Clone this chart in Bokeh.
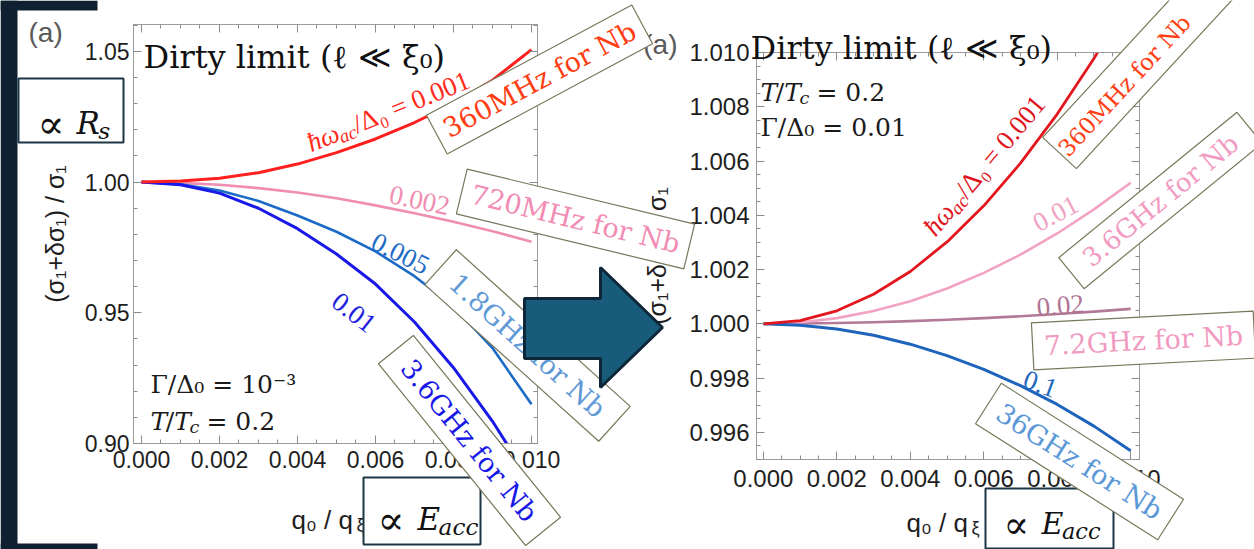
import math
from bokeh.plotting import figure
from bokeh.models import Range1d, LinearAxis, FixedTicker, PrintfTickFormatter, CustomJSTickFormatter
from bokeh.layouts import row
from bokeh.embed import file_html
from bokeh.resources import INLINE
from bokeh.core.properties import value

# ---------------- data ----------------
q = [0.000, 0.001, 0.002, 0.003, 0.004, 0.005, 0.006, 0.007, 0.008, 0.009, 0.010]

# left panel: Gamma/Delta0 = 1e-3, T/Tc = 0.2
left_w001 = [1.0000, 1.0004, 1.0015, 1.0036, 1.0069, 1.0113, 1.0165, 1.0228, 1.0300, 1.0390, 1.0507]
left_w002 = [1.0000, 0.9997, 0.9990, 0.9977, 0.9960, 0.9938, 0.9911, 0.9881, 0.9848, 0.9812, 0.9772]
left_w005 = [1.0000, 0.9992, 0.9968, 0.9928, 0.9872, 0.9810, 0.9735, 0.9640, 0.9525, 0.9365, 0.9150]
left_w010 = [1.0000, 0.9990, 0.9958, 0.9900, 0.9822, 0.9725, 0.9610, 0.9465, 0.9290, 0.9085, 0.8850]

# right panel: T/Tc = 0.2, Gamma/Delta0 = 0.01
right_w001 = [1.00000, 1.00012, 1.00048, 1.00109, 1.00193, 1.00302, 1.00435, 1.00592, 1.00773, 1.00978, 1.01208]
right_w010 = [1.00000, 1.00005, 1.00021, 1.00047, 1.00083, 1.00130, 1.00188, 1.00255, 1.00333, 1.00422, 1.00520]
right_w020 = [1.00000, 1.00001, 1.00003, 1.00006, 1.00010, 1.00015, 1.00021, 1.00028, 1.00036, 1.00045, 1.00055]
right_w100 = [1.00000, 0.99995, 0.99981, 0.99958, 0.99925, 0.99883, 0.99832, 0.99772, 0.99703, 0.99623, 0.99532]

x_ticks = [0.000, 0.002, 0.004, 0.006, 0.008, 0.010]
x_minor = [round(0.0005 * k, 4) for k in range(0, 21)]
left_y_ticks = [0.90, 0.95, 1.00, 1.05]
left_y_minor = [round(0.90 + 0.01 * k, 2) for k in range(0, 17)]
right_y_ticks = [0.996, 0.998, 1.000, 1.002, 1.004, 1.006, 1.008, 1.010]
right_y_minor = [round(0.995 + 0.0005 * k, 4) for k in range(0, 31)]

ylab = "(σ₁+δσ₁) / σ₁"

# ---------------- plot panels ----------------
def style_axis(ax, major, minor, fmt, labels, fs, standoff):
    ax.ticker = FixedTicker(ticks=major, minor_ticks=minor)
    if labels:
        ax.formatter = PrintfTickFormatter(format=fmt)
        ax.major_label_text_font = "Liberation Sans"
        ax.major_label_text_font_size = fs
        ax.major_label_text_color = "#1e1e1e"
        ax.major_label_standoff = standoff
    else:
        ax.formatter = CustomJSTickFormatter(code="return ''")
        ax.major_label_text_font_size = "1px"
        ax.major_label_standoff = 0
    ax.major_tick_in = 8
    ax.major_tick_out = 0
    ax.minor_tick_in = 4
    ax.minor_tick_out = 0
    ax.axis_line_color = "#9c9c9c"
    ax.major_tick_line_color = "#8c8c8c"
    ax.minor_tick_line_color = "#8c8c8c"


def make_panel(width, xr, yr, bl, br, bt, bb, yticks, yminor, yfmt, fs, xstand, ystand, ylab_stand):
    p = figure(width=width, height=549, x_range=Range1d(*xr), y_range=Range1d(*yr),
               output_backend="svg", toolbar_location=None, title=None,
               min_border_left=bl, min_border_right=br, min_border_top=bt, min_border_bottom=bb)
    p.frame_align = False
    p.background_fill_color = "white"
    p.border_fill_color = "white"
    p.outline_line_color = "#9c9c9c"
    p.xgrid.visible = False
    p.ygrid.visible = False
    p.add_layout(LinearAxis(), "above")
    p.add_layout(LinearAxis(), "right")
    style_axis(p.below[0], x_ticks, x_minor, "%.3f", True, fs, xstand)
    style_axis(p.left[0], yticks, yminor, yfmt, True, fs, ystand)
    style_axis(p.above[0], x_ticks, x_minor, "", False, fs, 0)
    style_axis(p.right[0], yticks, yminor, "", False, fs, 0)
    p.left[0].axis_label = ylab
    p.left[0].axis_label_text_font = "Liberation Sans"
    p.left[0].axis_label_text_font_size = "25px"
    p.left[0].axis_label_text_font_style = "normal"
    p.left[0].axis_label_text_color = "#1e1e1e"
    p.left[0].axis_label_standoff = ylab_stand
    return p

f1 = make_panel(640, (-0.000205, 0.010154), (0.90, 1.0603), 133, 103, 24, 106,
                left_y_ticks, left_y_minor, "%.2f", "23px", 7, 4, 13)
f1.line(q, left_w002, line_color="#f08db2", line_width=2.6, line_join="round")
f1.line(q, left_w005, line_color="#1b6bc6", line_width=2.6, line_join="round")
f1.line(q, left_w010, line_color="#1818e8", line_width=3, line_join="round")
f1.line(q, left_w001, line_color="#ff1f1f", line_width=3, line_join="round")

f2 = make_panel(614, (-0.000187, 0.01024), (0.995, 1.010), 108, 115, 52, 90,
                right_y_ticks, right_y_minor, "%.3f", "24px", 10, 7, 15)
f2.line(q, right_w020, line_color="#b27a98", line_width=2.6, line_join="round")
f2.line(q, right_w010, line_color="#f2a3c4", line_width=2.6, line_join="round")
f2.line(q, right_w100, line_color="#1e64bd", line_width=3, line_join="round")
f2.line(q, right_w001, line_color="#e3161e", line_width=2.8, line_join="round")

# ---------------- slide overlay ----------------
ov = figure(width=1254, height=549, x_range=Range1d(0, 1254), y_range=Range1d(549, 0),
            output_backend="svg", toolbar_location=None, title=None,
            x_axis_location=None, y_axis_location=None, min_border=0)
ov.frame_align = False
ov.background_fill_color = None
ov.border_fill_color = None
ov.outline_line_color = None
ov.xgrid.grid_line_color = None
ov.ygrid.grid_line_color = None
ov.margin = (0, 0, 0, -1254)

LS = {c: 0.5 for c in "0123456789"}
LS.update({'.': 0.25, ' ': 0.25, '=': 0.564, '/': 0.278, '(': 0.333, ')': 0.333, '−': 0.564, '+': 0.564,
           'T': 0.56, 'Γ': 0.6, 'Δ': 0.62, 'E': 0.611, 'R': 0.611, 'a': 0.5, 'c': 0.444, 's': 0.389,
           'q': 0.5, 'ħ': 0.5, 'ω': 0.67, 'σ': 0.55, 'δ': 0.5, 'ξ': 0.45, '₀': 0.5})
DV = {c: 0.636 for c in "0123456789"}
DV.update({'.': 0.318, ' ': 0.318, '=': 0.838, '/': 0.337, '(': 0.39, ')': 0.39, '−': 0.838,
           'T': 0.61, 'Γ': 0.637, 'Δ': 0.77, 'E': 0.68, 'R': 0.7, 'a': 0.6, 'c': 0.52, 's': 0.5,
           '∝': 0.84, '₀': 0.4, '⁻': 0.4, '³': 0.4})
SA = {c: 0.556 for c in "0123456789"}
SA.update({' ': 0.278, '/': 0.278, 'q': 0.556, 'ξ': 0.5})
TABLES = {"Liberation Serif": LS, "DejaVu Serif": DV, "Liberation Sans": SA}


def twidth(s, fam):
    t = TABLES[fam]
    return sum(t.get(c, 0.55) for c in s)


def rich(segs, x0, y0, size, color, fam, angle=0.0, anchor="left"):
    a = math.radians(angle)
    ux, uy = math.cos(a), -math.sin(a)
    vx, vy = math.sin(a), math.cos(a)
    total = sum(twidth(t, fam) * size * sc for t, sc, sh, st in segs)
    if anchor == "center":
        x0 = x0 - total / 2 * ux + 0.33 * size * vx
        y0 = y0 - total / 2 * uy + 0.33 * size * vy
    adv = 0.0
    for t, sc, sh, st in segs:
        s = size * sc
        lead = len(t) - len(t.lstrip(" "))
        off = adv + lead * twidth(" ", fam) * s
        ov.text(x=[x0 + off * ux + sh * size * vx], y=[y0 + off * uy + sh * size * vy], text=[t.strip(" ")],
                angle=a, text_font=value(fam), text_font_size=value(f"{s:.1f}px"), text_font_style=st,
                text_color=color, text_align="left", text_baseline="alphabetic")
        adv += twidth(t, fam) * s


def rbox(cx, cy, L, h, ang, lc, lw):
    a = math.radians(ang)
    ux, uy = math.cos(a), -math.sin(a)
    vx, vy = math.sin(a), math.cos(a)
    xs = [cx - L / 2 * ux - h / 2 * vx, cx + L / 2 * ux - h / 2 * vx, cx + L / 2 * ux + h / 2 * vx, cx - L / 2 * ux + h / 2 * vx]
    ys = [cy - L / 2 * uy - h / 2 * vy, cy + L / 2 * uy - h / 2 * vy, cy + L / 2 * uy + h / 2 * vy, cy - L / 2 * uy + h / 2 * vy]
    ov.patch(xs, ys, fill_color="white", line_color=lc, line_width=lw)


# dark slide background strips
navy = "#0f2131"
ov.patch([0, 17, 17, 0], [0, 0, 549, 549], fill_color=navy, line_color=None)
ov.patch([0, 97, 97, 0], [0, 0, 10, 10], fill_color=navy, line_color=None)
ov.patch([0, 97, 97, 0], [543, 543, 549, 549], fill_color=navy, line_color=None)

# panel tags
ov.text(x=[28], y=[32], text=["(a)"], text_font=value("Liberation Sans"), text_font_size=value("28px"),
        text_color="#5a5a5a", text_align="left", text_baseline="alphabetic")
ov.text(x=[677], y=[44], text=["(a)"], text_font=value("Liberation Sans"), text_font_size=value("28px"),
        text_color="#5a5a5a", text_align="right", text_baseline="alphabetic")

# panel titles
title_segs = [("Dirty limit (ℓ ≪ ξ₀)", 1, 0, "normal")]
rich(title_segs, 143, 56, 32, "#111111", "DejaVu Serif")
rich(title_segs, 750, 47, 32, "#111111", "DejaVu Serif")

# parameter notes
g_l = [("Γ/Δ₀ = 10⁻³", 1, 0, "normal")]
t_l = [("T", 1, 0, "italic"), ("/", 1, 0, "normal"), ("T", 1, 0, "italic"), ("c", 0.7, 0.22, "italic"), (" = 0.2", 1, 0, "normal")]
g_r = [("Γ/Δ₀ = 0.01", 1, 0, "normal")]
rich(g_l, 150, 384, 25, "#1a1a1a", "DejaVu Serif")
rich(t_l, 150, 421, 25, "#1a1a1a", "DejaVu Serif")
rich(t_l, 760, 92, 25, "#1a1a1a", "DejaVu Serif")
rich(g_r, 760, 127, 25, "#1a1a1a", "DejaVu Serif")

# curve labels
w_lab = [("ħω", 1, 0, "italic"), ("ac", 0.7, 0.22, "italic"), ("/Δ₀ = 0.001", 1, 0, "normal")]
rich(w_lab, 386, 102, 27, "#ff2a1a", "Liberation Serif", 22, "center")
rich([("0.002", 1, 0, "normal")], 421, 191, 27, "#f08db2", "Liberation Serif", -12, "center")
rich([("0.005", 1, 0, "normal")], 404, 245, 27, "#1f6dc6", "Liberation Serif", -27, "center")
rich([("0.01", 1, 0, "normal")], 359, 305, 27, "#2020e0", "Liberation Serif", -38, "center")
rich(w_lab, 978, 158, 27, "#e0141c", "Liberation Serif", 50, "center")
rich([("0.01", 1, 0, "normal")], 1051, 205, 27, "#f0a2c2", "Liberation Serif", 28, "center")
rich([("0.02", 1, 0, "normal")], 1059, 296, 27, "#b07595", "Liberation Serif", 5, "center")
rich([("0.1", 1, 0, "normal")], 1043, 375, 27, "#1f68c0", "Liberation Serif", -20, "center")

# x axis titles
xq = [("q₀ / q", 1, 0, "normal"), ("ξ", 0.7, 0.22, "normal")]
rich(xq, 291, 519, 26, "#1e1e1e", "Liberation Sans")
rich(xq, 906, 522, 26, "#1e1e1e", "Liberation Sans")

# proportionality boxes
pc = "#1c3646"
ov.patch([18, 123, 123, 18], [78, 78, 142, 142], fill_color="white", line_color=pc, line_width=2)
rich([("∝", 1, 0, "normal")], 37, 123, 40, "#111111", "DejaVu Serif")
rich([("R", 1, 0, "italic"), ("s", 0.75, 0.25, "italic")], 76, 122, 31, "#111111", "DejaVu Serif")
ov.patch([363, 480, 480, 363], [477, 477, 544, 544], fill_color="white", line_color=pc, line_width=2)
rich([("∝", 1, 0, "normal")], 377, 519, 40, "#111111", "DejaVu Serif")
rich([("E", 1, 0, "italic"), ("acc", 0.75, 0.25, "italic")], 417, 518, 31, "#111111", "DejaVu Serif")
ov.patch([985, 1113, 1113, 985], [488, 488, 548, 548], fill_color="white", line_color=pc, line_width=2)
rich([("∝", 1, 0, "normal")], 1003, 524, 38, "#111111", "DejaVu Serif")
rich([("E", 1, 0, "italic"), ("acc", 0.75, 0.25, "italic")], 1041, 523, 30, "#111111", "DejaVu Serif")

# frequency boxes: box centre, length, height, angle, text, colour, size, text centre
bc = "#77775a"
boxes = [
    (539, 79, 233, 44, 28.2, "360MHz for Nb", "#ff3d12", 27, None),
    (575, 218.5, 234, 46, -13.6, "720MHz for Nb", "#f28cb4", 27, None),
    (527, 345, 234, 47, -42, "1.8GHz for Nb", "#5f9ad6", 27, None),
    (469, 440, 234, 45, -51, "3.6GHz for Nb", "#1717e6", 27, None),
    (1137, 68, 230, 46, 47.3, "360MHz for Nb", "#ff3d12", 23, (1124, 85)),
    (1160, 200, 230, 40, 39.2, "3.6GHz for Nb", "#f29bc2", 26, None),
    (1143, 340, 222, 47, 3, "7.2GHz for Nb", "#f29bc2", 27, None),
    (1079, 461, 216, 48, -32.5, "36GHz for Nb", "#5b98d8", 27, None),
]
for cx, cy, L, h, ang, txt, col, fs, tc in boxes:
    rbox(cx, cy, L, h, ang, bc, 1.2)
    tx, ty = tc if tc else (cx, cy)
    ov.text(x=[tx], y=[ty], text=[txt], angle=math.radians(ang), text_font=value("DejaVu Serif"),
            text_font_size=value(f"{fs}px"), text_color=col, text_align="center", text_baseline="middle")

# block arrow
ov.patch([524, 600, 600, 662, 600, 600, 524], [298, 298, 267, 327, 387, 358, 358],
         fill_color="#185b7a", line_color="#0d2738", line_width=3)

layout = row(f1, f2, ov)
open("out.html", "w").write(file_html(layout, INLINE))
